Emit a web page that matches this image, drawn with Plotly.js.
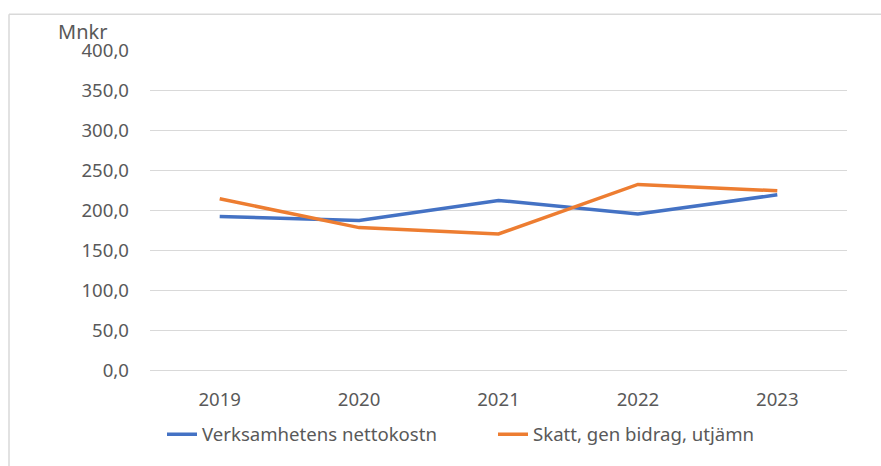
<!DOCTYPE html>
<html>
<head>
<meta charset="utf-8">
<script src="https://cdn.plot.ly/plotly-3.0.1.min.js"></script>
<style>
html,body{margin:0;padding:0;background:#fff;}
#chart{width:881px;height:466px;}
</style>
</head>
<body>
<div id="chart"></div>
<script>
var years = ['2019', '2020', '2021', '2022', '2023'];
var nettokostn = [192, 187, 212, 195, 219];
var skatt = [214, 178, 170, 232, 224];
var seriesNames = ['Verksamhetens nettokostn', 'Skatt, gen bidrag, utjämn'];
var yTicks = [0, 50, 100, 150, 200, 250, 300, 350, 400];

var FONT = '"Noto Sans", sans-serif';
var GRAY = '#595959';
var FS = 18.6;

var traces = [
  {x: years, y: nettokostn, name: seriesNames[0], type: 'scatter', mode: 'lines',
   line: {color: '#4472C4', width: 3.5}},
  {x: years, y: skatt, name: seriesNames[1], type: 'scatter', mode: 'lines',
   line: {color: '#ED7D31', width: 3.5}}
];

var L = 150, T = 50, W = 697, H = 322;
function px(x){ return (x - L) / W; }
function py(y){ return (T + H - y) / H; }

var layout = {
  width: 881, height: 466,
  margin: {l: L, r: 881 - L - W, t: T, b: 466 - T - H, pad: 0},
  paper_bgcolor: '#fff', plot_bgcolor: '#fff',
  separators: ', ',
  font: {family: FONT, size: FS, color: GRAY},
  showlegend: true,
  xaxis: {
    type: 'category', range: [-0.5, 4.5],
    showgrid: false, showline: false, zeroline: false,
    ticks: '', ticklabelstandoff: 16,
    tickfont: {family: FONT, size: FS, color: GRAY}
  },
  yaxis: {
    range: [0, 400], tickvals: yTicks, tickformat: '.1f',
    showgrid: true, gridcolor: '#d9d9d9', gridwidth: 1,
    zeroline: true, zerolinecolor: '#d9d9d9', zerolinewidth: 1,
    showline: false, ticks: '', ticklabelstandoff: 20,
    tickfont: {family: FONT, size: FS, color: GRAY}
  },
  legend: {
    orientation: 'h', x: px(162), xanchor: 'left', y: py(437), yanchor: 'middle',
    font: {family: FONT, size: FS, color: GRAY},
    bgcolor: 'rgba(0,0,0,0)', itemwidth: 30,
    entrywidth: 286, entrywidthmode: 'pixels'
  },
  annotations: [{
    text: 'Mnkr', xref: 'paper', yref: 'paper', x: px(56), y: py(31),
    xanchor: 'left', yanchor: 'middle', showarrow: false,
    font: {family: FONT, size: 20, color: GRAY}
  }],
  shapes: [
    {type: 'line', xref: 'paper', yref: 'paper', x0: px(9), x1: px(890), y0: py(14), y1: py(14),
     line: {color: '#d9d9d9', width: 1.5}},
    {type: 'line', xref: 'paper', yref: 'paper', x0: px(9), x1: px(9), y0: py(14), y1: py(470),
     line: {color: '#d9d9d9', width: 1.5}}
  ]
};

Plotly.newPlot('chart', traces, layout, {displayModeBar: false, staticPlot: true});
</script>
</body>
</html>
